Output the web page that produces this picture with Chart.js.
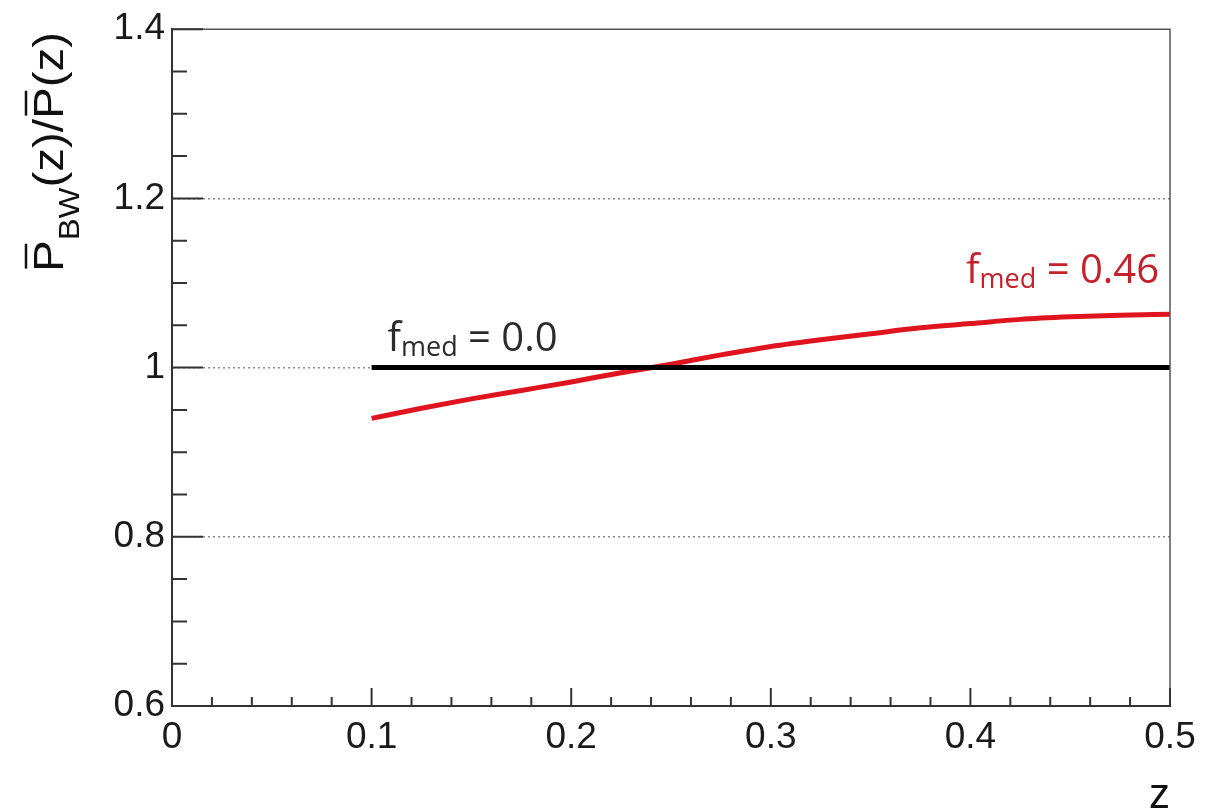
<!DOCTYPE html>
<html>
<head>
<meta charset="utf-8">
<script src="https://cdn.jsdelivr.net/npm/chart.js@4"></script>
<style>
  body { margin: 0; background: #fff; }
  canvas { display: block; }
</style>
</head>
<body>
<canvas id="ratioChart" width="1227" height="811"></canvas>
<script>
// data
const zValues = [0.10, 0.125, 0.15, 0.175, 0.20, 0.225, 0.25, 0.275, 0.30, 0.325, 0.35, 0.375, 0.40, 0.425, 0.45, 0.475, 0.50];
const ratioMed046 = [0.940, 0.952, 0.963, 0.973, 0.983, 0.994, 1.004, 1.015, 1.025, 1.033, 1.040, 1.047, 1.052, 1.057, 1.060, 1.062, 1.063];
const zFlat = [0.10, 0.50];
const ratioMed00 = [1.0, 1.0];

// axis ticks
const xMajorTicks = [0, 0.1, 0.2, 0.3, 0.4, 0.5];
const xMinorTicks = [0.02, 0.04, 0.06, 0.08, 0.12, 0.14, 0.16, 0.18, 0.22, 0.24, 0.26, 0.28,
                     0.32, 0.34, 0.36, 0.38, 0.42, 0.44, 0.46, 0.48];
const yMajorTicks = [0.6, 0.8, 1.0, 1.2, 1.4];
const yMinorTicks = [0.65, 0.7, 0.75, 0.85, 0.9, 0.95, 1.05, 1.1, 1.15, 1.25, 1.3, 1.35];
const yGridValues = [0.8, 1.0, 1.2];

const redColor = '#e0141e';
const redText = '#c8202a';

function toPoints(xs, ys) {
    return xs.map((v, i) => ({x: v, y: ys[i]}));
}

// draws text with a lowered subscript, returns the width used
function drawSubLabel(ctx, x, y, parts, mainFont, subFont, subDrop) {
    let cx = x;
    parts.forEach(p => {
        ctx.font = p.sub ? subFont : mainFont;
        ctx.fillText(p.t, cx, y + (p.sub ? subDrop : 0));
        cx += ctx.measureText(p.t).width;
    });
    return cx - x;
}

function measureParts(ctx, parts, mainFont, subFont) {
    let w = 0;
    parts.forEach(p => {
        ctx.font = p.sub ? subFont : mainFont;
        w += ctx.measureText(p.t).width;
    });
    return w;
}

// ROOT-like frame, inward ticks and the text labels
const frameAndLabels = {
    id: 'frameAndLabels',
    afterDraw(chart) {
        const ctx = chart.ctx;
        const a = chart.chartArea;
        const x = chart.scales.x;
        const y = chart.scales.y;
        ctx.save();

        // top and right frame
        ctx.strokeStyle = '#555';
        ctx.lineWidth = 1.5;
        ctx.beginPath();
        ctx.moveTo(a.left, a.top);
        ctx.lineTo(a.right, a.top);
        ctx.lineTo(a.right, a.bottom);
        ctx.stroke();

        // ticks
        ctx.strokeStyle = '#333';
        ctx.lineWidth = 2;
        ctx.beginPath();
        xMajorTicks.forEach(v => {
            const px = x.getPixelForValue(v);
            ctx.moveTo(px, a.bottom); ctx.lineTo(px, a.bottom - 18);
        });
        xMinorTicks.forEach(v => {
            const px = x.getPixelForValue(v);
            ctx.moveTo(px, a.bottom); ctx.lineTo(px, a.bottom - 9);
        });
        yMajorTicks.forEach(v => {
            const py = y.getPixelForValue(v);
            ctx.moveTo(a.left, py); ctx.lineTo(a.left + 31, py);
        });
        yMinorTicks.forEach(v => {
            const py = y.getPixelForValue(v);
            ctx.moveTo(a.left, py); ctx.lineTo(a.left + 15, py);
        });
        ctx.stroke();

        // curve labels
        ctx.textBaseline = 'alphabetic';
        ctx.textAlign = 'left';
        const mainFont = '40px "Open Sans", "Noto Sans", sans-serif';
        const subFont = '27px "Open Sans", "Noto Sans", sans-serif';
        const blackParts = [{t: 'f'}, {t: 'med', sub: true}, {t: ' = 0.0'}];
        ctx.fillStyle = '#2b2b2b';
        drawSubLabel(ctx, x.getPixelForValue(0.108), y.getPixelForValue(1.02), blackParts, mainFont, subFont, 5);

        const redParts = [{t: 'f'}, {t: 'med', sub: true}, {t: ' = 0.46'}];
        const redW = measureParts(ctx, redParts, mainFont, subFont);
        ctx.fillStyle = redText;
        drawSubLabel(ctx, x.getPixelForValue(0.4945) - redW, y.getPixelForValue(1.10), redParts, mainFont, subFont, 5);

        // x axis title
        ctx.fillStyle = '#111';
        ctx.font = '42px "Liberation Sans", Arial, sans-serif';
        ctx.textAlign = 'right';
        ctx.fillText('z', a.right, 808);

        // y axis title, rotated, with overbars on P
        const tMain = '42px "Liberation Sans", Arial, sans-serif';
        const tSub = '29px "Liberation Sans", Arial, sans-serif';
        const titleParts = [{t: 'P', bar: true}, {t: 'BW', sub: true}, {t: '(z)/'}, {t: 'P', bar: true}, {t: '(z)'}];
        const titleW = measureParts(ctx, titleParts, tMain, tSub);
        const stretch = 240 / titleW;
        ctx.translate(63, 272);
        ctx.rotate(-Math.PI / 2);
        ctx.scale(stretch, 1);
        ctx.textAlign = 'left';
        ctx.fillStyle = '#111';
        ctx.strokeStyle = '#111';
        ctx.lineWidth = 2.5;
        let cx = 0;
        titleParts.forEach(p => {
            ctx.font = p.sub ? tSub : tMain;
            const w = ctx.measureText(p.t).width;
            ctx.fillText(p.t, cx, p.sub ? 16 : 0);
            if (p.bar) {
                ctx.beginPath();
                ctx.moveTo(cx + 3, -37);
                ctx.lineTo(cx + w - 3, -37);
                ctx.stroke();
            }
            cx += w;
        });
        ctx.restore();
    }
};

const tickFont = {family: '"Liberation Sans", Arial, sans-serif', size: 37};

const chart = new Chart(document.getElementById('ratioChart').getContext('2d'), {
    type: 'line',
    data: {
        datasets: [
            {
                label: 'f_med = 0.0',
                data: toPoints(zFlat, ratioMed00),
                borderColor: '#000',
                borderWidth: 5,
                pointRadius: 0,
                tension: 0
            },
            {
                label: 'f_med = 0.46',
                data: toPoints(zValues, ratioMed046),
                borderColor: redColor,
                borderWidth: 5,
                pointRadius: 0,
                cubicInterpolationMode: 'monotone'
            }
        ]
    },
    options: {
        responsive: false,
        animation: false,
        layout: {
            padding: {left: 0, top: 6, right: 57, bottom: 0}
        },
        plugins: {
            legend: {display: false},
            tooltip: {enabled: false}
        },
        scales: {
            x: {
                type: 'linear',
                min: 0,
                max: 0.5,
                afterFit: s => { s.height = 105; },
                afterBuildTicks: s => { s.ticks = xMajorTicks.map(v => ({value: v})); },
                grid: {display: false, drawTicks: false},
                border: {display: true, color: '#333', width: 2},
                ticks: {
                    padding: 10,
                    color: '#1a1a1a',
                    maxRotation: 0,
                    font: tickFont,
                    callback: v => String(Math.round(v * 10) / 10)
                }
            },
            y: {
                type: 'linear',
                min: 0.6,
                max: 1.4,
                afterFit: s => { s.width = 172; },
                afterBuildTicks: s => { s.ticks = yMajorTicks.map(v => ({value: v})); },
                grid: {
                    drawTicks: false,
                    lineWidth: 1.5,
                    color: c => (c.tick && yGridValues.some(g => Math.abs(g - c.tick.value) < 1e-6)) ? '#8a8a8a' : 'rgba(0,0,0,0)'
                },
                border: {display: true, color: '#333', width: 2, dash: [2, 3]},
                ticks: {
                    padding: 7,
                    color: '#1a1a1a',
                    font: tickFont,
                    callback: v => String(Math.round(v * 10) / 10)
                }
            }
        }
    },
    plugins: [frameAndLabels]
});
</script>
</body>
</html>
